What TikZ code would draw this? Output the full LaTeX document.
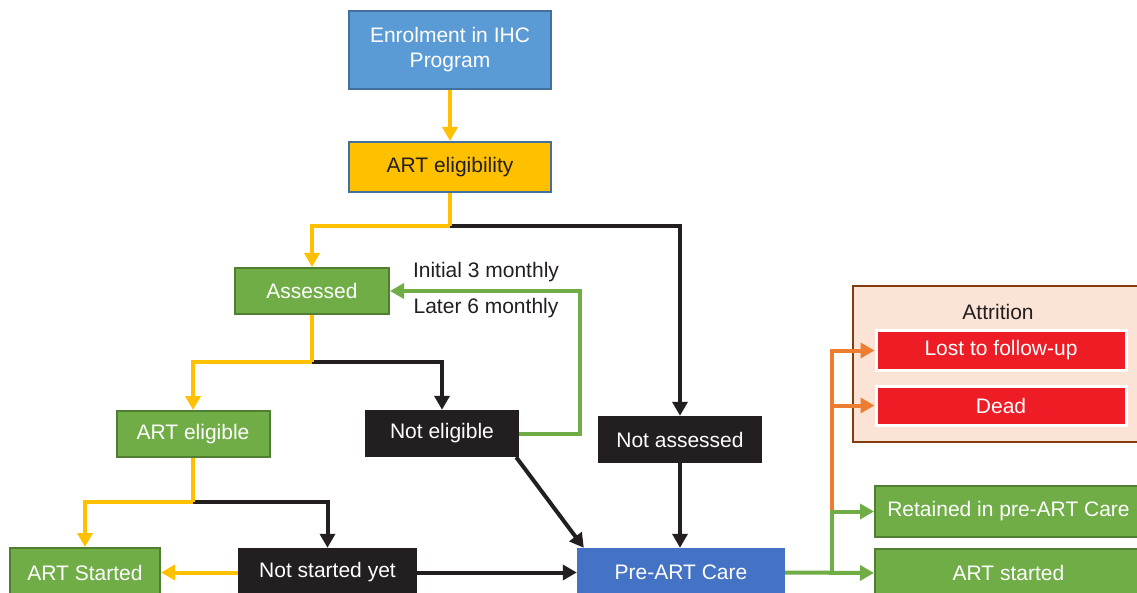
\documentclass[tikz,border=0pt]{standalone}
\usepackage{fontspec}
\setmainfont{Liberation Sans}
\usetikzlibrary{arrows.meta,calc}
\definecolor{cyel}{HTML}{FFC000}
\definecolor{cgreen}{HTML}{70AD47}
\definecolor{cgreenb}{HTML}{507E32}
\definecolor{cblue}{HTML}{5B9BD5}
\definecolor{cblueb}{HTML}{41719C}
\definecolor{cdblue}{HTML}{4472C4}
\definecolor{cblk}{HTML}{231F20}
\definecolor{cred}{HTML}{EE1C25}
\definecolor{corange}{HTML}{ED7D31}
\definecolor{cpeach}{HTML}{FBE3D6}
\definecolor{cbrown}{HTML}{843C0C}
\begin{document}
\begin{tikzpicture}[x=1pt,y=-1pt,
  font=\fontsize{21}{25}\selectfont,
  box/.style={rectangle,inner sep=0pt,align=center,text=white},
  greenbox/.style={box,fill=cgreen,draw=cgreenb,line width=2pt},
  blackbox/.style={box,fill=cblk},
  redbox/.style={box,fill=cred,draw=white,line width=3pt},
  conn/.style={line width=4pt,-{Triangle[length=14pt,width=15pt]}},
  line/.style={line width=4pt}]
\useasboundingbox (0,0) rectangle (1137,593);
\fill[white] (0,0) rectangle (1137,593);

% nodes
\node[box,fill=cblue,draw=cblueb,line width=2pt,minimum width=202pt,minimum height=78pt] (enrol) at (450,50) {Enrolment in IHC\\Program};
\node[box,fill=cyel,draw=cblueb,line width=2pt,minimum width=202pt,minimum height=50pt,text=cblk] (elig) at (450,167) {ART eligibility};
\node[greenbox,minimum width=154pt,minimum height=46pt] (assessed) at (312,291) {Assessed};
\node[greenbox,minimum width=153pt,minimum height=46pt] (arteligible) at (193,434) {ART eligible};
\node[blackbox,minimum width=154pt,minimum height=47pt] (noteligible) at (442,433.5) {Not eligible};
\node[blackbox,minimum width=164pt,minimum height=47pt] (notassessed) at (680,439.5) {Not assessed};
\node[greenbox,minimum width=150pt,minimum height=49pt] (artstartedA) at (85,572.5) {ART Started};
\node[blackbox,minimum width=179pt,minimum height=49pt] (notstarted) at (327.5,572.5) {Not started yet};
\node[box,fill=cdblue,minimum width=208pt,minimum height=49pt] (preart) at (681,572.5) {Pre-ART Care};

\node[rectangle,fill=cpeach,draw=cbrown,line width=2pt,minimum width=287pt,minimum height=156pt,inner sep=0pt] (attr) at (996.5,364) {};
\node[text=cblk,inner sep=0pt] (attrlabel) at (998,312) {Attrition};
\node[redbox,minimum width=250pt,minimum height=39pt] (lost) at (1001,350.5) {Lost to follow-up};
\node[redbox,minimum width=250pt,minimum height=39pt] (dead) at (1001,405.5) {Dead};
\node[greenbox,minimum width=267pt,minimum height=51pt] (retained) at (1008.5,511.5) {Retained in pre-ART Care};
\node[greenbox,minimum width=267pt,minimum height=48pt] (artstartedB) at (1008.5,573) {ART started};

% labels
\node[text=cblk,inner sep=0pt] (lab1) at (486,272) {Initial 3 monthly};
\node[text=cblk,inner sep=0pt] (lab2) at (486,308) {Later 6 monthly};

% junctions
\coordinate (j1) at (450,226);
\coordinate (j2) at (312,362);
\coordinate (j3) at (193,502);
\coordinate (j4) at (832,573);
\coordinate (j5) at (832,511);

% connectors
\draw[conn,cyel] (enrol.south) -- (elig.north);
\draw[conn,cblk] (j1) -| (notassessed.north);
\draw[line,cyel] (elig.south) -- (j1);
\draw[conn,cyel] (j1) -| (assessed.north);

\draw[conn,cblk] (j2) -| (noteligible.north);
\draw[line,cyel] (assessed.south) -- (j2);
\draw[conn,cyel] (j2) -| (arteligible.north);

\draw[conn,cblk] (j3) -| (notstarted.north);
\draw[line,cyel] (arteligible.south) -- (j3);
\draw[conn,cyel] (j3) -| (artstartedA.north);

\draw[conn,cyel] (notstarted.west) -- (artstartedA.east);
\draw[conn,cblk] (notstarted.east) -- (preart.west);
\draw[conn,cblk] ($(noteligible.south east)+(-3,0)$) -- ($(preart.north west)+(7,0)$);
\draw[conn,cblk] (notassessed.south) -- (notassessed.south |- preart.north);

\draw[conn,cgreen] (noteligible.east) -- ++(61,0) |- (assessed.east);

\draw[conn,corange] (j5) |- (lost.west);
\draw[conn,corange] (j5) |- (dead.west);
\draw[conn,cgreen] (preart.east) -- (artstartedB.west);
\draw[conn,cgreen] (j4) |- (retained.west);
\end{tikzpicture}
\end{document}
